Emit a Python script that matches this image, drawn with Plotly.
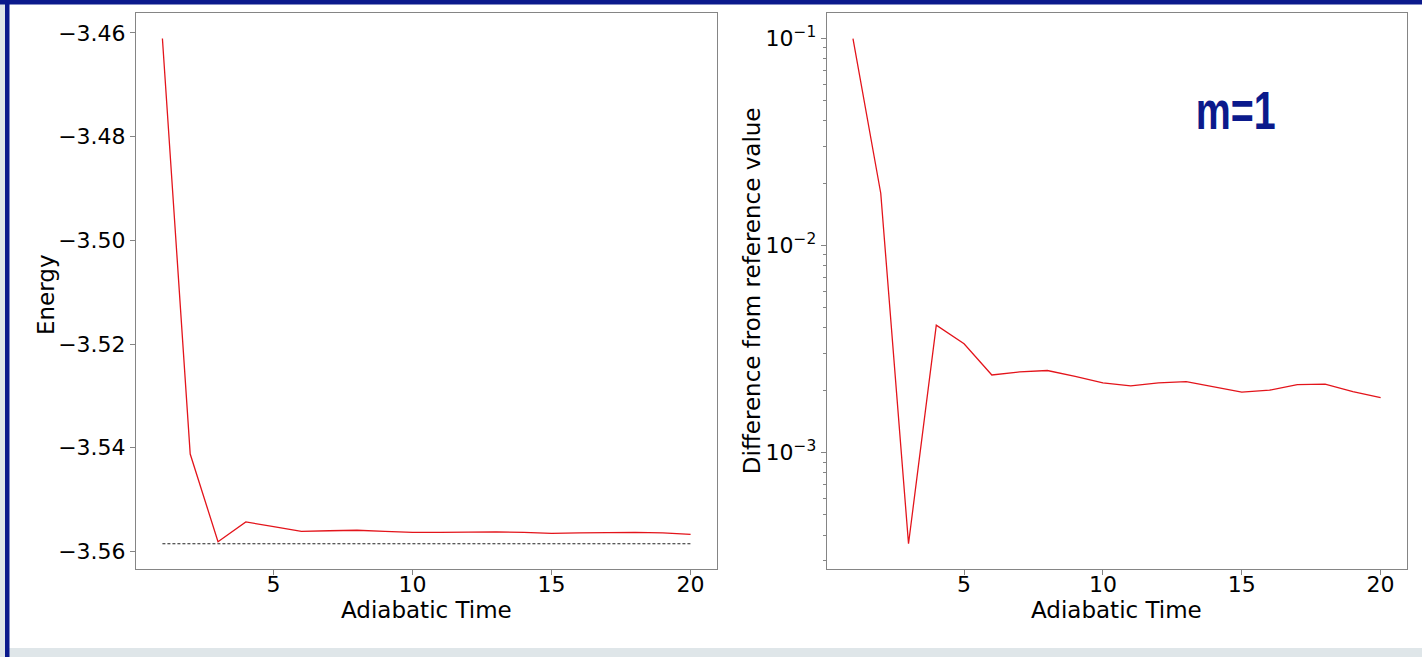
import plotly.graph_objects as go
import numpy as np

# Adiabatic evolution time steps
adiabatic_time = list(range(1, 21))

# Final energy reached for each adiabatic time
energy = [-3.4611, -3.5412, -3.5581, -3.5543, -3.5552, -3.5561, -3.5560, -3.5559,
          -3.5561, -3.5563, -3.5563, -3.5562, -3.5562, -3.5563, -3.5565, -3.5564,
          -3.5563, -3.5563, -3.5564, -3.5567]

# Exact ground-state energy used as reference
reference_energy = -3.5585

# Absolute deviation from the reference energy
difference = [0.0997, 0.01786, 0.000363, 0.00412, 0.00335, 0.00237, 0.00245, 0.00249,
              0.00233, 0.00217, 0.00210, 0.00217, 0.00220, 0.00207, 0.00196, 0.00200,
              0.00213, 0.00214, 0.00197, 0.00184]

energy_ticks = [-3.56, -3.54, -3.52, -3.50, -3.48, -3.46]
time_ticks = [5, 10, 15, 20]
log_ticks = [1e-3, 1e-2, 1e-1]
log_tick_text = ["10<sup>−3</sup>", "10<sup>−2</sup>", "10<sup>−1</sup>"]

W, H = 1422, 657
NAVY = "#0b1a8c"
BAND = "#dfe6e9"
SPINE = "#858585"

# panel boxes in pixels (left, right, top, bottom)
LEFT_BOX = (136, 717)
RIGHT_BOX = (826.6, 1407)
TOP, BOTTOM = 13.3, 569


def padded(lo, hi, frac=0.05):
    pad = (hi - lo) * frac
    return [lo - pad, hi + pad]


def px(x):
    return x / W


def py(y):
    return 1 - y / H


x_range = padded(min(adiabatic_time), max(adiabatic_time))
e_range = padded(min(energy + [reference_energy]), max(energy))
log_d = np.log10(difference)
d_range = padded(float(log_d.min()), float(log_d.max()))

minor_vals = [m * 10.0 ** k for k in (-4, -3, -2, -1) for m in range(2, 10)
              if d_range[0] <= np.log10(m * 10.0 ** k) <= d_range[1]]

fig = go.Figure()

fig.add_trace(go.Scatter(x=adiabatic_time, y=energy, mode="lines",
                         line=dict(color="#e3141b", width=1.3),
                         xaxis="x", yaxis="y", showlegend=False))
fig.add_trace(go.Scatter(x=[adiabatic_time[0], adiabatic_time[-1]],
                         y=[reference_energy, reference_energy], mode="lines",
                         line=dict(color="#222222", width=1.2, dash="3px,2px"),
                         xaxis="x", yaxis="y", showlegend=False))
fig.add_trace(go.Scatter(x=adiabatic_time, y=difference, mode="lines",
                         line=dict(color="#e3141b", width=1.3),
                         xaxis="x2", yaxis="y2", showlegend=False))

tick_font = dict(family="DejaVu Sans", size=22, color="black")
title_font = dict(family="DejaVu Sans", size=23, color="black")

common_x = dict(range=x_range, tickvals=time_ticks, showline=True, mirror=True,
                linecolor=SPINE, linewidth=1, ticks="outside", ticklen=5,
                tickcolor=SPINE, showgrid=False, zeroline=False,
                tickfont=tick_font, ticklabelstandoff=-9, automargin=False)

common_y = dict(showline=True, mirror=True, linecolor=SPINE, linewidth=1,
                ticks="outside", ticklen=5, tickcolor=SPINE,
                showgrid=False, zeroline=False, tickfont=tick_font,
                automargin=False, domain=[py(BOTTOM), py(TOP)])

axis_titles = [
    dict(text="Adiabatic Time", x=px(sum(LEFT_BOX) / 2), y=py(610), textangle=0),
    dict(text="Adiabatic Time", x=px(sum(RIGHT_BOX) / 2), y=py(610), textangle=0),
    dict(text="Energy", x=px(46), y=py(295), textangle=-90),
    dict(text="Difference from reference value", x=px(752),
         y=py((TOP + BOTTOM) / 2), textangle=-90),
]

annotations = [dict(xref="paper", yref="paper", xanchor="center", yanchor="middle",
                    showarrow=False, font=title_font, **a) for a in axis_titles]
annotations.append(
    dict(text="<b>m=1</b>", xref="paper", yref="paper", x=px(1236), y=py(110),
         xanchor="center", yanchor="middle", showarrow=False,
         font=dict(family="Liberation Sans", size=54, color=NAVY)))

fig.update_layout(
    width=W, height=H,
    margin=dict(l=0, r=0, t=0, b=0),
    paper_bgcolor="white", plot_bgcolor="white",
    xaxis=dict(domain=[px(LEFT_BOX[0]), px(LEFT_BOX[1])], anchor="y", **common_x),
    xaxis2=dict(domain=[px(RIGHT_BOX[0]), px(RIGHT_BOX[1])], anchor="y2", **common_x),
    yaxis=dict(anchor="x", range=e_range, tickvals=energy_ticks, tickformat=".2f",
               **common_y),
    yaxis2=dict(anchor="x2", type="log", range=d_range,
                tickvals=log_ticks, ticktext=log_tick_text,
                minor=dict(tickvals=minor_vals, ticks="outside", ticklen=3,
                           tickcolor=SPINE, showgrid=False),
                **common_y),
    shapes=[
        # light band along the bottom and left edge
        dict(type="rect", xref="paper", yref="paper", x0=0, x1=1, y0=0, y1=9 / H,
             fillcolor=BAND, line=dict(width=0), layer="below"),
        dict(type="rect", xref="paper", yref="paper", x0=0, x1=px(5), y0=0, y1=1,
             fillcolor=BAND, line=dict(width=0), layer="below"),
        # navy frame on top and left
        dict(type="rect", xref="paper", yref="paper", x0=px(5), x1=px(9.5), y0=0, y1=1,
             fillcolor=NAVY, line=dict(width=0), layer="below"),
        dict(type="rect", xref="paper", yref="paper", x0=0, x1=1, y0=py(4.5), y1=1,
             fillcolor=NAVY, line=dict(width=0), layer="below"),
    ],
    annotations=annotations,
)

# squeeze the panel label into a condensed width
condense_label = """
var gd = document.getElementById('{plot_id}');
gd.querySelectorAll('.annotation-text').forEach(function (t) {
    if (t.textContent === 'm=1') {
        t.setAttribute('textLength', '80');
        t.setAttribute('lengthAdjust', 'spacingAndGlyphs');
    }
});
"""

fig.write_html("out.html", post_script=condense_label)
